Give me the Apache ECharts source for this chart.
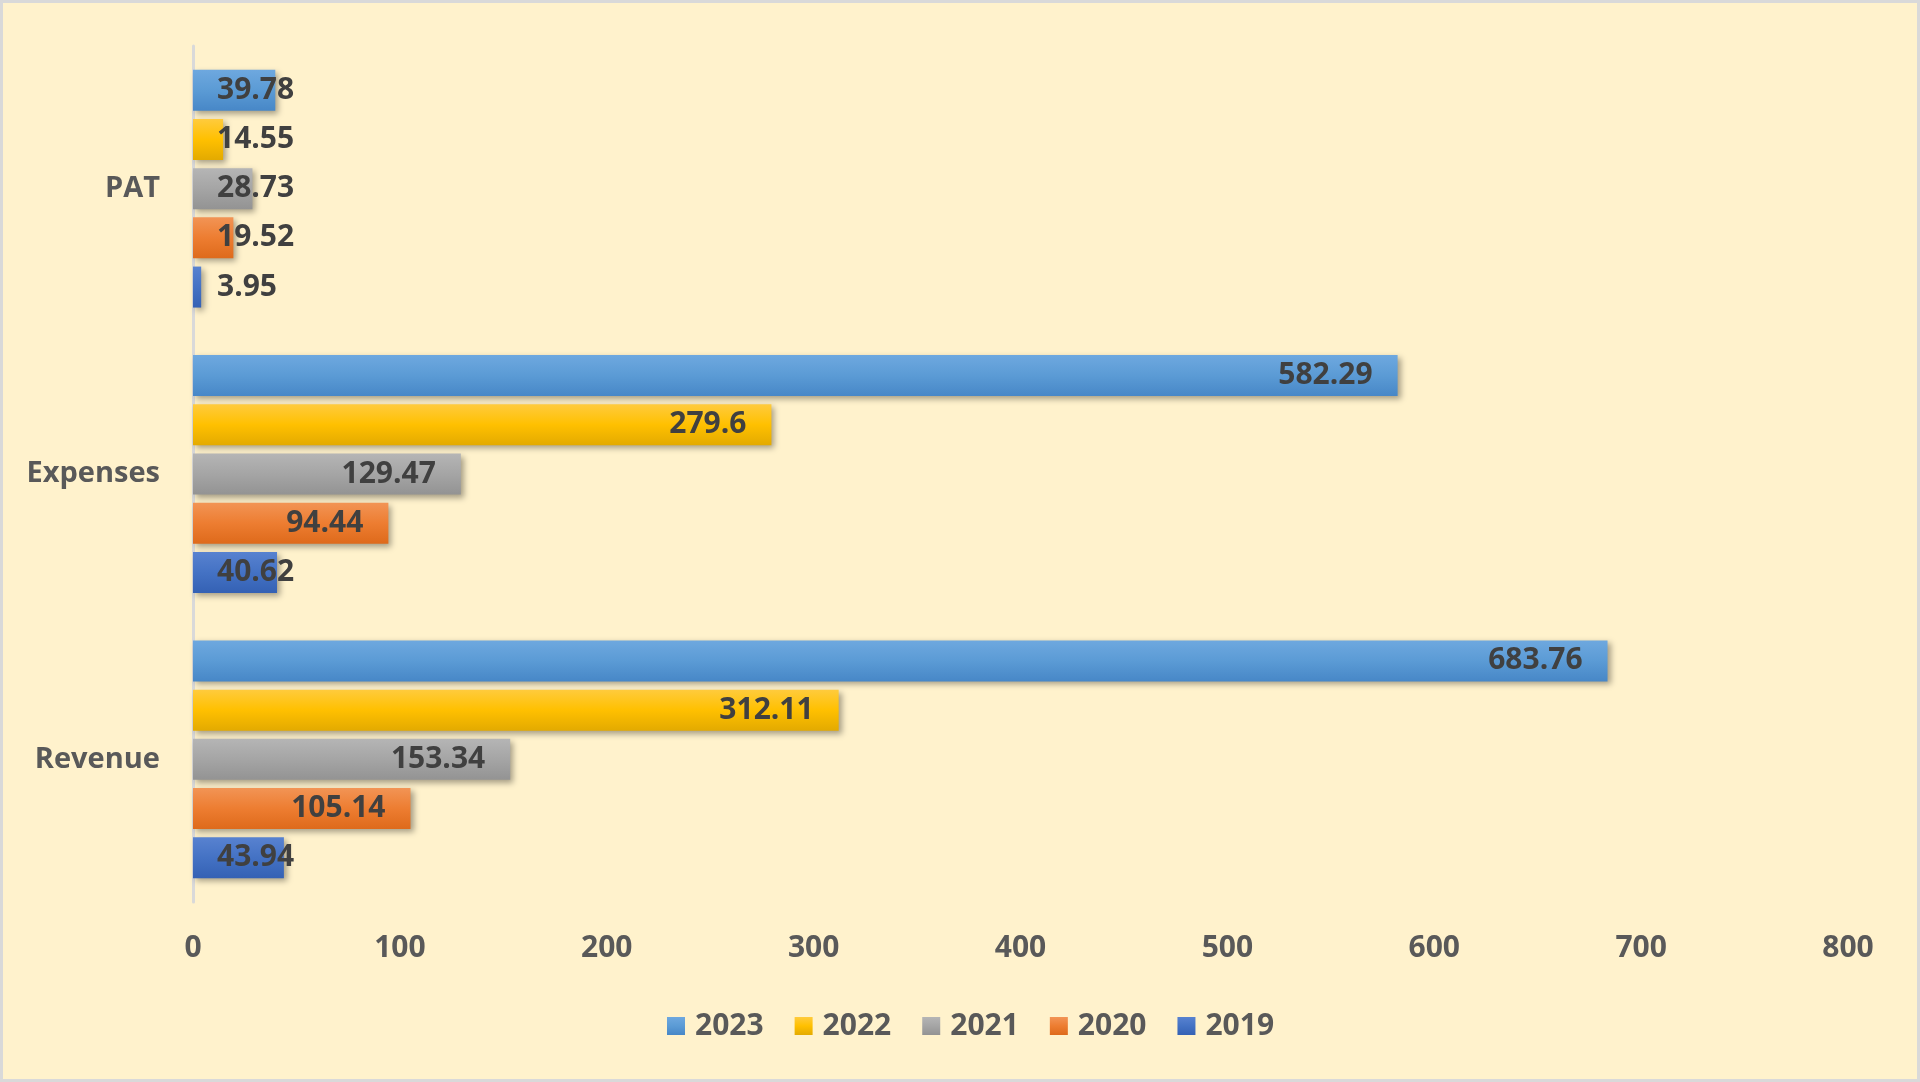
<!DOCTYPE html>
<html>
<head>
<meta charset="utf-8">
<script src="https://cdn.jsdelivr.net/npm/echarts@6/dist/echarts.min.js"></script>
<style>
html,body{margin:0;padding:0;background:#FFF2CC;}
#main{width:1920px;height:1082px;}
</style>
</head>
<body>
<div id="main"></div>
<script>
const categories = ['Revenue', 'Expenses', 'PAT'];
const years = ['2023', '2022', '2021', '2020', '2019'];
const values2023 = [683.76, 582.29, 39.78];
const values2022 = [312.11, 279.6, 14.55];
const values2021 = [153.34, 129.47, 28.73];
const values2020 = [105.14, 94.44, 19.52];
const values2019 = [43.94, 40.62, 3.95];
const xTicks = [0, 100, 200, 300, 400, 500, 600, 700, 800];

const seriesValues = [values2023, values2022, values2021, values2020, values2019];
const gradients = [
  ['#6EA8DF', '#5B9BD5', '#4787C7'],
  ['#FFCB3D', '#FFC000', '#E3AA00'],
  ['#B5B5B5', '#A5A5A5', '#939393'],
  ['#F29455', '#ED7D31', '#DE6A1B'],
  ['#5882D0', '#4472C4', '#3461B4']
];

function grad(c) {
  return new echarts.graphic.LinearGradient(0, 0, 0, 1, [
    {offset: 0, color: c[0]}, {offset: 0.5, color: c[1]}, {offset: 1, color: c[2]}
  ]);
}

const chart = echarts.init(document.getElementById('main'), null, {renderer: 'canvas'});
const FONT = '"Open Sans", "DejaVu Sans", sans-serif';

const series = years.map((y, i) => ({
  name: y,
  type: 'bar',
  barWidth: 41,
  barGap: '20%',
  itemStyle: {
    color: grad(gradients[i]),
    shadowColor: 'rgba(0,0,0,0.35)',
    shadowBlur: 6,
    shadowOffsetX: 3,
    shadowOffsetY: 3
  },
  label: {
    show: true,
    color: '#404040',
    fontFamily: FONT,
    fontWeight: 'bold',
    fontSize: 30
  },
  data: seriesValues[i].map(v => ({
    value: v,
    label: v < 60 ? {position: 'insideLeft', distance: 24} : {position: 'insideRight', distance: 25}
  }))
}));

chart.setOption({
  backgroundColor: '#FFF2CC',
  animation: false,
  grid: {left: 193, right: 72, top: 46, bottom: 180, containLabel: false},
  xAxis: {
    type: 'value',
    min: xTicks[0],
    max: xTicks[xTicks.length - 1],
    interval: xTicks[1] - xTicks[0],
    axisLine: {show: false},
    axisTick: {show: false},
    splitLine: {show: false},
    axisLabel: {color: '#595959', fontFamily: FONT, fontWeight: 'bold', fontSize: 30, margin: 31}
  },
  yAxis: {
    type: 'category',
    data: categories,
    axisLine: {show: true, lineStyle: {color: '#D9D9D9', width: 3}},
    axisTick: {show: false},
    axisLabel: {color: '#595959', fontFamily: FONT, fontWeight: 'bold', fontSize: 29, margin: 33}
  },
  legend: {
    data: years,
    bottom: 36,
    left: 662,
    itemWidth: 18,
    itemHeight: 18,
    itemGap: 31,
    icon: 'rect',
    textStyle: {color: '#595959', fontFamily: FONT, fontWeight: 'bold', fontSize: 30, padding: [0, 0, 0, 5]}
  },
  graphic: [{
    type: 'rect',
    shape: {x: 1.5, y: 1.5, width: 1917, height: 1079},
    style: {fill: 'none', stroke: '#D9D9D9', lineWidth: 3},
    silent: true
  }],
  series: series
});
</script>
</body>
</html>
